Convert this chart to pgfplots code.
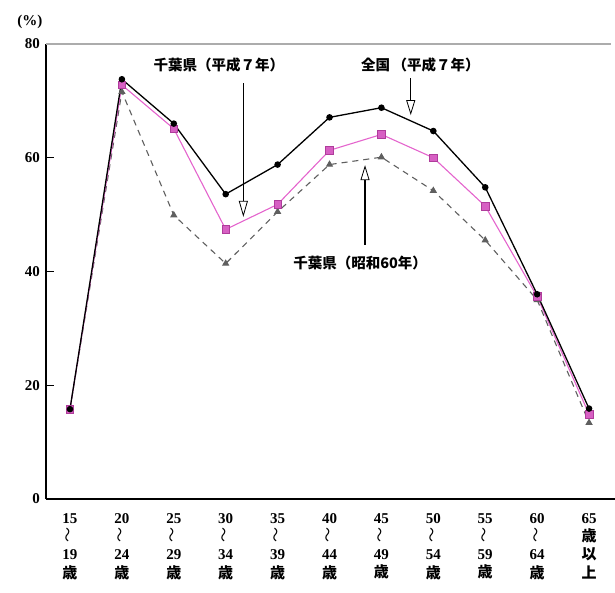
\documentclass[border=0pt]{standalone}
\usepackage{fontspec}
\setmainfont{Liberation Serif}
\newfontfamily\cjk{Noto Sans CJK JP}
\usepackage{pgfplots}
\pgfplotsset{compat=1.18}
\usetikzlibrary{arrows.meta}
\definecolor{pinkline}{RGB}{228,100,205}
\definecolor{pinkfill}{RGB}{215,95,195}
\definecolor{pinkdraw}{RGB}{175,60,155}
\definecolor{grayline}{RGB}{95,95,95}
\newcommand{\wave}{\raisebox{-0.2ex}{\rotatebox{90}{\cjk\mdseries\fontsize{15}{15}\selectfont ～}}}

\pgfplotstableread{
x zenkoku chibaH7 chibaS60
0  15.8 15.8 15.8
1  73.8 72.8 71.6
2  66.0 65.1 49.9
3  53.6 47.4 41.4
4  58.8 51.8 50.5
5  67.1 61.3 58.8
6  68.8 64.1 60.1
7  64.7 60.0 54.2
8  54.8 51.5 45.5
9  36.0 35.6 35.0
10 15.9 14.9 13.4
}\datatable

\begin{document}
\begin{tikzpicture}[x=1pt,y=1pt]
\path[use as bounding box] (0,0) rectangle (615,592);
\begin{axis}[
  at={(46pt,93pt)}, anchor=south west,
  scale only axis, width=569pt, height=455pt,
  xmin=-0.462, xmax=10.5, ymin=0, ymax=80,
  axis x line*=bottom, axis y line*=left,
  axis line style={-, line width=1.4pt, black},
  xtick={0,1,2,3,4,5,6,7,8,9,10},
  xticklabels={
    15\\\wave\\19\\{\cjk 歳},
    20\\\wave\\24\\{\cjk 歳},
    25\\\wave\\29\\{\cjk 歳},
    30\\\wave\\34\\{\cjk 歳},
    35\\\wave\\39\\{\cjk 歳},
    40\\\wave\\44\\{\cjk 歳},
    45\\\wave\\49\\{\cjk 歳},
    50\\\wave\\54\\{\cjk 歳},
    55\\\wave\\59\\{\cjk 歳},
    60\\\wave\\64\\{\cjk 歳},
    65\\{\cjk 歳}\\{\cjk 以}\\{\cjk 上}},
  major x tick style={draw=none},
  ytick={0,20,40,60,80},
  tick align=inside, major tick length=8pt,
  major y tick style={line width=0.9pt, black},
  tick label style={font=\bfseries\fontsize{15}{18.3}\selectfont},
  /pgf/number format/assume math mode=true,
  xticklabel style={align=center, anchor=north, inner sep=0pt, yshift=-14pt},
  yticklabel style={anchor=east, inner sep=0pt, xshift=-6pt},
  clip=false,
]
\draw[gray!65, line width=2.6pt] (axis cs:-0.462,80) -- (axis cs:10.42,80);

\addplot[grayline, line width=1.1pt, dash pattern=on 6pt off 5pt,
  mark=triangle*, mark size=3.2pt, mark options={solid, fill=grayline, draw=grayline}]
  table[x=x, y=chibaS60] {\datatable};
\addplot[pinkline, line width=1.1pt,
  mark=square*, mark size=3.8pt, mark options={fill=pinkfill, draw=pinkdraw, line width=0.6pt}]
  table[x=x, y=chibaH7] {\datatable};
\addplot[black, line width=1.3pt,
  mark=*, mark size=2.6pt, mark options={fill=black}]
  table[x=x, y=zenkoku] {\datatable};

% annotations
\node[font=\cjk\bfseries\fontsize{14.5}{16}\selectfont] at (axis cs:2.87,76.3) {千葉県（平成７年）};
\draw[black, line width=0.8pt, -{Triangle[length=16pt, width=9pt, fill=white, line width=0.8pt]}]
  (axis cs:3.34,73.1) -- (axis cs:3.34,49.6);

\node[font=\cjk\bfseries\fontsize{14.5}{16}\selectfont] at (axis cs:6.75,76.3) {全国\,（平成７年）};
\draw[black, line width=0.8pt, -{Triangle[length=15pt, width=9pt, fill=white, line width=0.8pt]}]
  (axis cs:6.565,74.0) -- (axis cs:6.565,67.5);

\node[font=\cjk\bfseries\fontsize{14.5}{16}\selectfont] at (axis cs:5.59,41.5) {千葉県（昭和60年）};
\draw[black, line width=1.6pt, -{Triangle[length=15pt, width=9pt, fill=white, line width=0.8pt]}]
  (axis cs:5.684,44.7) -- (axis cs:5.684,58.7);

\node[font=\bfseries\fontsize{15}{16}\selectfont] at (axis cs:-0.771,83.9) {(\%)};
\end{axis}
\end{tikzpicture}
\end{document}
